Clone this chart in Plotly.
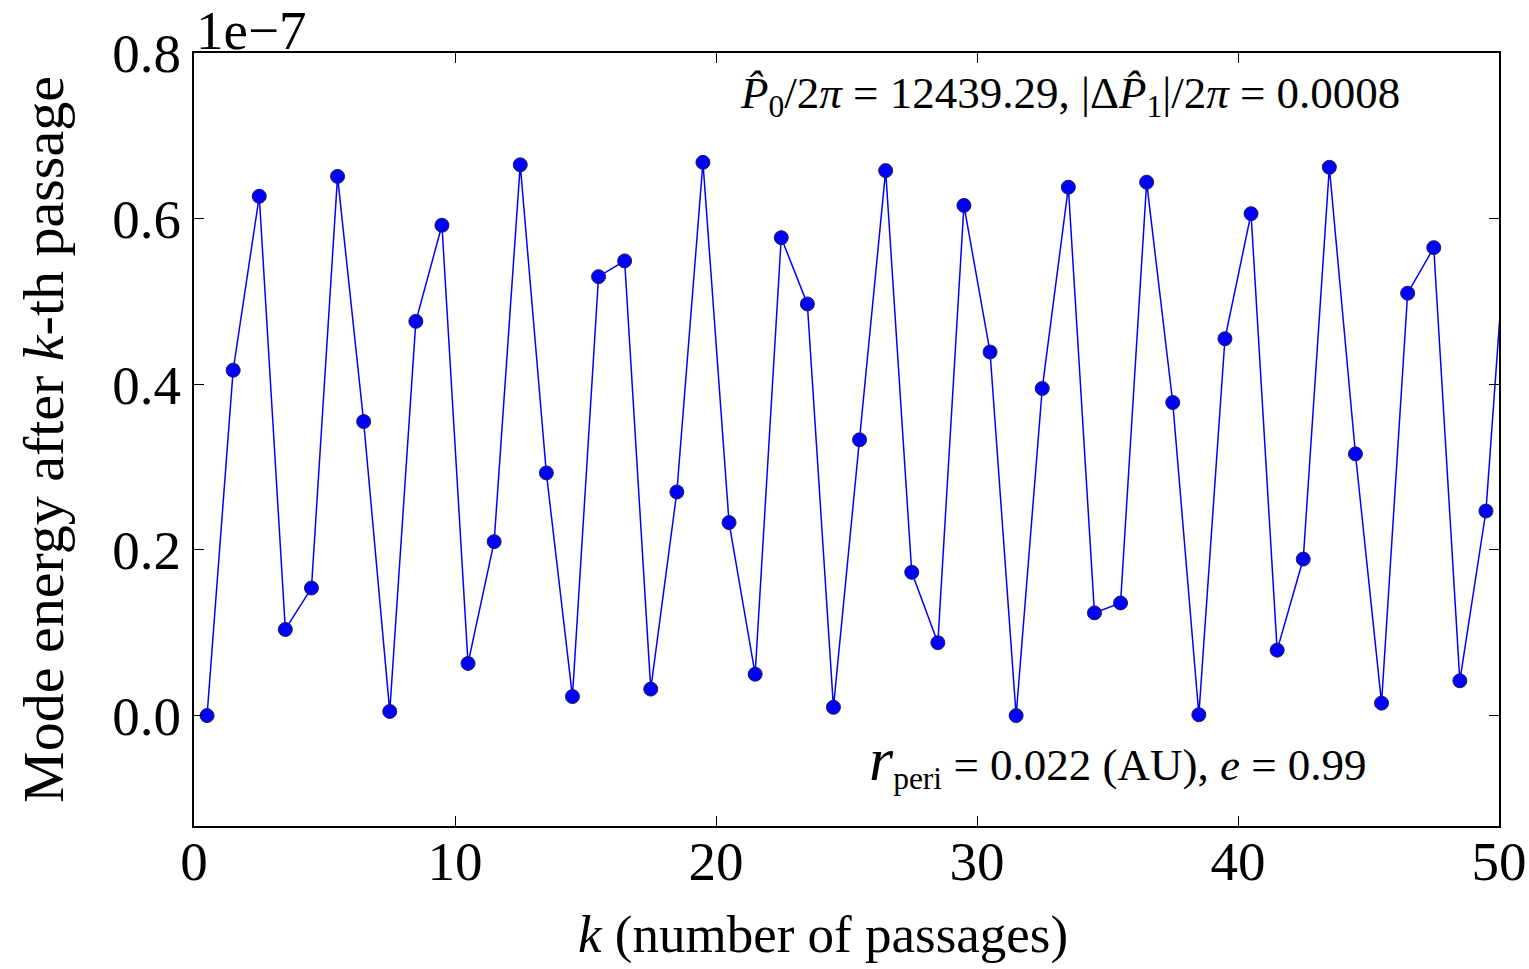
import plotly.graph_objects as go

k_vals = [i + 0.5 for i in range(51)]
energy = [0.000, 0.417, 0.627, 0.104, 0.154, 0.651, 0.355, 0.005, 0.476, 0.592,
          0.063, 0.210, 0.665, 0.293, 0.023, 0.530, 0.549, 0.032, 0.270, 0.668,
          0.233, 0.050, 0.577, 0.497, 0.010, 0.333, 0.658, 0.173, 0.088, 0.616,
          0.439, 0.000, 0.395, 0.638, 0.124, 0.136, 0.644, 0.378, 0.001, 0.455,
          0.606, 0.079, 0.189, 0.662, 0.316, 0.015, 0.510, 0.565, 0.042, 0.247,
          0.686]
x_ticks = [0, 10, 20, 30, 40, 50]
y_ticks = [0.0, 0.2, 0.4, 0.6, 0.8]

FONT = "Liberation Serif"

fig = go.Figure()
fig.add_trace(go.Scatter(
    x=k_vals, y=energy, mode="lines+markers",
    line=dict(color="#0000ff", width=1.5),
    marker=dict(color="#0000ff", size=14, line=dict(color="#222244", width=1)),
    cliponaxis=True, showlegend=False,
))

axis_common = dict(showline=True, linecolor="black", linewidth=2, mirror="ticks",
                   ticks="inside", ticklen=10, tickwidth=1.2, tickcolor="black",
                   showgrid=False, zeroline=False, automargin=False,
                   tickfont=dict(family=FONT, size=55, color="black"))

fig.update_layout(
    width=1529, height=969,
    margin=dict(l=194, r=30, t=53, b=143, autoexpand=False),
    plot_bgcolor="white", paper_bgcolor="white",
    font=dict(family=FONT, color="black"),
    xaxis=dict(range=[0, 50], tickvals=x_ticks, ticktext=[str(t) for t in x_ticks],
               ticklabelstandoff=-14, **axis_common),
    yaxis=dict(range=[-0.1333, 0.8], tickvals=y_ticks,
               ticktext=[f"{t:.1f}" for t in y_ticks],
               title=dict(text="Mode energy after <i>k</i>-th passage",
                          font=dict(family=FONT, size=58), standoff=30),
               **axis_common),
)

fig.add_annotation(xref="paper", yref="paper", x=0.0, y=1.0, xanchor="left",
                   yanchor="bottom", text="1e\u22127", showarrow=False,
                   font=dict(family=FONT, size=55), xshift=0, yshift=-10)

fig.add_annotation(xref="paper", yref="paper", x=0.9255, y=0.945, xanchor="right",
                   yanchor="middle", showarrow=False,
                   text="<i>P\u0302</i><sub>0</sub>/2<i>\u03c0</i> = 12439.29, "
                        "|\u0394<i>P\u0302</i><sub>1</sub>|/2<i>\u03c0</i> = 0.0008",
                   font=dict(family=FONT, size=45))

fig.add_annotation(xref="paper", yref="paper", x=0.9, y=0.085, xanchor="right",
                   yanchor="middle", showarrow=False,
                   text="<span style='font-size:62px'><i>r</i></span>"
                        "<sub>peri</sub> = 0.022 (AU), <i>e</i> = 0.99",
                   font=dict(family=FONT, size=45))

fig.add_annotation(xref="paper", yref="paper", x=0.482, y=-0.1, xanchor="center",
                   yanchor="top", showarrow=False,
                   text="<i>k</i> (number of passages)",
                   font=dict(family=FONT, size=53))

fig.write_html("out.html")
